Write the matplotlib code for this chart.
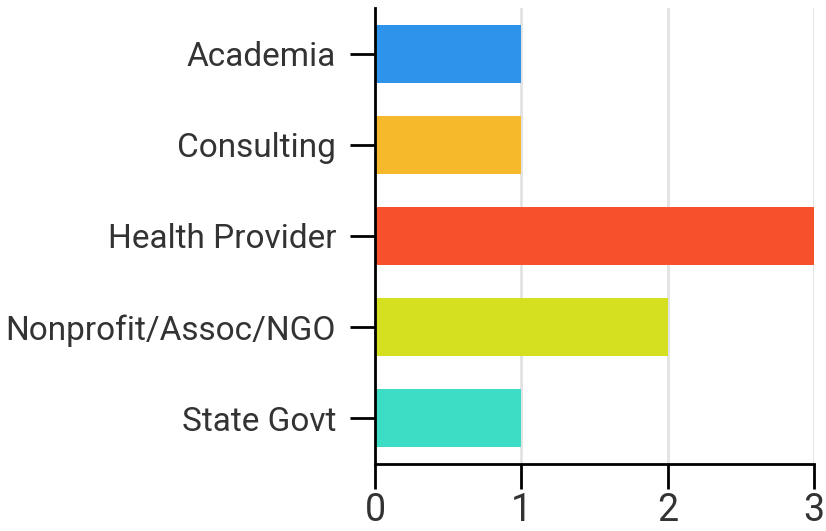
import matplotlib.pyplot as plt

categories = ["Academia", "Consulting", "Health Provider", "Nonprofit/Assoc/NGO", "State Govt"]
values = [1, 1, 3, 2, 1]
colors = ["#2e94eb", "#f6b92c", "#f6502c", "#d5e021", "#3ddcc4"]
xticks = [0, 1, 2, 3]

plt.rcParams['font.family'] = ['Roboto', 'DejaVu Sans']

fig = plt.figure(figsize=(8.26, 5.31), dpi=100)
ax = fig.add_axes([375/826, 1 - 464/531, (814 - 375)/826, (464 - 8)/531])

ax.barh(range(len(categories)), values, height=0.635, color=colors, zorder=2)
ax.set_ylim(len(categories) - 0.5, -0.5)
ax.set_xlim(0, 3)
ax.set_yticks(range(len(categories)))
ax.set_yticklabels(categories)
ax.set_xticks(xticks)

ax.grid(axis='x', color='#e2e2e2', linewidth=2, zorder=0)
for s in ['top', 'right']:
    ax.spines[s].set_visible(False)
for s in ['left', 'bottom']:
    ax.spines[s].set_linewidth(2)
    ax.spines[s].set_color('black')
    ax.spines[s].set_zorder(3)

ax.tick_params(axis='y', length=18, width=2, pad=10, labelsize=24, labelcolor='#333333')
ax.tick_params(axis='x', length=18, width=2, pad=2, labelsize=27, labelcolor='#333333')

fig.savefig("out.png", dpi=100)
